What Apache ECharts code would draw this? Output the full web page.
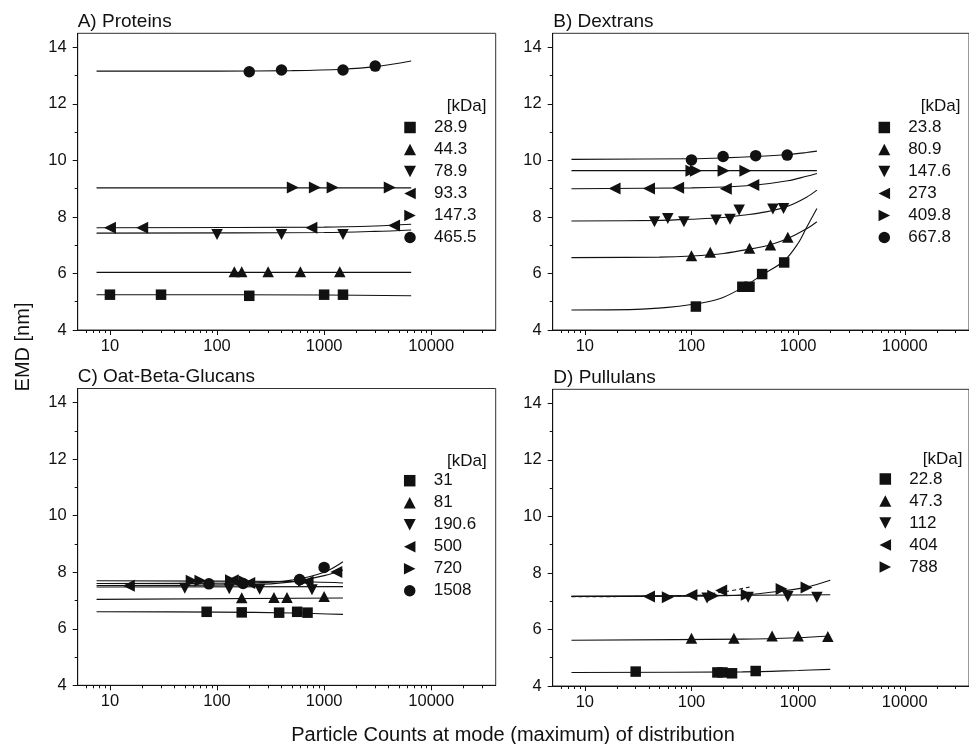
<!DOCTYPE html>
<html>
<head>
<meta charset="utf-8">
<script src="https://cdn.jsdelivr.net/npm/echarts@6/dist/echarts.min.js"></script>
<style>
html, body { margin: 0; padding: 0; background: #fff; }
#chart { width: 969px; height: 744px; }
</style>
</head>
<body>
<div id="chart"></div>
<script>
// tick values
var xTicks = [10, 100, 1000, 10000];
var xMinorTicks = [6, 7, 8, 9, 20, 30, 40, 50, 60, 70, 80, 90, 200, 300, 400, 500, 600, 700, 800, 900,
                   2000, 3000, 4000, 5000, 6000, 7000, 8000, 9000, 20000, 30000];
var yTicks = [4, 6, 8, 10, 12, 14];
var yMinorTicks = [5, 7, 9, 11, 13];

var panelTitles = ['A) Proteins', 'B) Dextrans', 'C) Oat-Beta-Glucans', 'D) Pullulans'];

// A) Proteins
var protNames = ['28.9', '44.3', '78.9', '93.3', '147.3', '465.5'];
var protSym = ['square', 'up', 'down', 'left', 'right', 'circle'];
var protX = [[10, 30, 200, 1000, 1500], [145, 170, 300, 600, 1400], [100, 400, 1500],
             [10, 20, 760, 4500], [510, 820, 1200, 4100], [200, 400, 1500, 3000]];
var protY = [[5.25, 5.25, 5.21, 5.25, 5.25], [6.06, 6.06, 6.06, 6.06, 6.06], [7.38, 7.38, 7.38],
             [7.62, 7.62, 7.62, 7.70], [9.04, 9.04, 9.04, 9.04], [13.14, 13.20, 13.20, 13.34]];
var protFitX = [[7.5, 1000, 6500], [7.5, 6500], [7.5, 1000, 3000, 6500],
                [7.5, 1000, 3000, 6500], [7.5, 6500], [7.5, 100, 500, 1500, 3000, 6500]];
var protFitY = [[5.25, 5.24, 5.21], [6.04, 6.04], [7.43, 7.45, 7.49, 7.54],
                [7.62, 7.64, 7.68, 7.74], [9.03, 9.03], [13.16, 13.16, 13.18, 13.23, 13.32, 13.52]];

// B) Dextrans
var dexNames = ['23.8', '80.9', '147.6', '273', '409.8', '667.8'];
var dexSym = ['square', 'up', 'down', 'left', 'right', 'circle'];
var dexX = [[110, 300, 350, 460, 740], [100, 150, 350, 550, 800],
            [45, 60, 85, 170, 230, 280, 580, 730], [19, 40, 75, 210, 380],
            [100, 110, 200, 320], [100, 198, 400, 790]];
var dexY = [[4.83, 5.53, 5.53, 5.98, 6.39], [6.63, 6.75, 6.89, 7.01, 7.28],
            [7.83, 7.95, 7.83, 7.89, 7.92, 8.25, 8.28, 8.30], [9.01, 9.01, 9.03, 9.00, 9.13],
            [9.64, 9.64, 9.64, 9.64], [10.02, 10.14, 10.17, 10.19]];
var dexFitX = [[7.5, 30, 60, 100, 150, 200, 300, 460, 740, 1000, 1200, 1500],
               [7.5, 50, 100, 200, 350, 550, 800, 1200, 1500],
               [7.5, 50, 100, 200, 300, 500, 800, 1200, 1500],
               [7.5, 100, 200, 400, 800, 1200, 1500],
               [7.5, 1500],
               [7.5, 100, 200, 400, 800, 1200, 1500]];
var dexFitY = [[4.71, 4.73, 4.80, 4.90, 5.02, 5.16, 5.50, 5.95, 6.45, 7.07, 7.63, 8.30],
               [6.56, 6.58, 6.62, 6.71, 6.86, 7.02, 7.24, 7.58, 7.83],
               [7.86, 7.88, 7.92, 7.98, 8.06, 8.18, 8.38, 8.70, 8.95],
               [9.00, 9.03, 9.06, 9.13, 9.28, 9.44, 9.54],
               [9.64, 9.64],
               [10.04, 10.06, 10.09, 10.14, 10.21, 10.28, 10.33]];

// C) Oat-Beta-Glucans
var oatNames = ['31', '81', '190.6', '500', '720', '1508'];
var oatSym = ['square', 'up', 'down', 'left', 'right', 'circle'];
var oatX = [[80, 170, 380, 560, 700], [170, 340, 450, 1000], [50, 130, 250, 770],
            [15, 140, 200, 700, 1300], [58, 70, 135, 180, 650], [84, 175, 590, 1000]];
var oatY = [[6.60, 6.58, 6.57, 6.60, 6.57], [7.10, 7.11, 7.11, 7.14], [7.43, 7.42, 7.40, 7.38],
            [7.52, 7.72, 7.62, 7.66, 8.01], [7.70, 7.70, 7.72, 7.68, 7.70], [7.59, 7.60, 7.74, 8.17]];
var oatFitX = [[7.5, 100, 500, 1500], [7.5, 1500], [7.5, 1500],
               [7.5, 200, 500, 1000, 1500], [7.5, 500, 1500], [7.5, 200, 500, 1000, 1500]];
var oatFitY = [[6.60, 6.59, 6.56, 6.51], [7.04, 7.09], [7.48, 7.49],
               [7.53, 7.56, 7.66, 7.88, 8.08], [7.70, 7.67, 7.62], [7.60, 7.62, 7.72, 8.00, 8.37]];

// D) Pullulans
var pulNames = ['22.8', '47.3', '112', '404', '788'];
var pulSym = ['square', 'up', 'down', 'left', 'right'];
var pulX = [[30, 175, 195, 240, 400], [100, 250, 570, 1000, 1900], [140, 340, 800, 1500],
            [40, 100, 190], [60, 160, 330, 700, 1200]];
var pulY = [[4.51, 4.48, 4.48, 4.45, 4.53], [5.69, 5.69, 5.77, 5.77, 5.75], [7.11, 7.14, 7.17, 7.14],
            [7.17, 7.22, 7.38], [7.14, 7.19, 7.23, 7.43, 7.49]];
var pulFitX = [[7.5, 300, 1000, 2000], [7.5, 300, 1000, 2000], [7.5, 2000],
               [7.5, 100, 200, 350], [7.5, 100, 300, 700, 1200, 2000]];
var pulFitY = [[4.48, 4.50, 4.55, 4.59], [5.62, 5.66, 5.71, 5.77], [7.17, 7.23],
               [7.16, 7.20, 7.33, 7.50], [7.17, 7.18, 7.22, 7.36, 7.50, 7.74]];
var pulDashed = [false, false, false, true, false];

// ---- layout ----
var FONT = '"Liberation Sans", Arial, sans-serif';
var INK = '#111';
var grids = [
    { left: 77.7, top: 33.3, width: 418, height: 296.7 },
    { left: 552.7, top: 33.3, width: 418, height: 296.7 },
    { left: 77.7, top: 388.5, width: 418, height: 296.8 },
    { left: 552.7, top: 389.3, width: 418, height: 296.7 }
];
var legendPos = [[404, 119], [878.3, 119], [403.7, 472.2], [879.3, 470.5]];
var kdaPos = [[446.7, 106], [920.7, 106], [447, 461], [922.7, 459.5]];
var titlePos = [[77.7, 22], [553.3, 22], [77.7, 377], [553.3, 378]];

var SYM = {
    square: { symbol: 'path://M0,0H10V10H0Z', size: [10.5, 10.5] },
    up: { symbol: 'path://M0,11L5.75,0L11.5,11Z', size: [11.5, 11] },
    down: { symbol: 'path://M0,0L11.5,0L5.75,11Z', size: [11.5, 11] },
    left: { symbol: 'path://M12,0L12,12L0,6Z', size: [12, 12] },
    right: { symbol: 'path://M0,0L12,6L0,12Z', size: [12, 12] },
    circle: { symbol: 'circle', size: 11.5 }
};

var xAxes = [], yAxes = [], series = [], legends = [], graphics = [];

grids.forEach(function (g, p) {
    g.show = true;
    g.borderColor = '#333';
    g.borderWidth = 1;
    g.containLabel = false;
    xAxes.push({
        type: 'log', logBase: 10, gridIndex: p, min: 5, max: 40000, position: 'bottom',
        axisLine: { show: true, lineStyle: { color: INK, width: 1 } },
        axisTick: { show: true, inside: false, length: 5, customValues: xTicks, lineStyle: { color: INK } },
        axisLabel: { customValues: xTicks, margin: 8, color: INK, fontSize: 16.5, fontFamily: FONT,
                     formatter: function (v) { return String(v); } },
        splitLine: { show: false }
    });
    xAxes.push({
        type: 'log', logBase: 10, gridIndex: p, min: 5, max: 40000, position: 'bottom',
        axisLine: { show: false },
        axisTick: { show: true, inside: false, length: 3, customValues: xMinorTicks, lineStyle: { color: INK } },
        axisLabel: { show: false },
        splitLine: { show: false }
    });
    yAxes.push({
        type: 'value', gridIndex: p, min: 4, max: 14.5, position: 'left',
        axisLine: { show: true, lineStyle: { color: INK, width: 1 } },
        axisTick: { show: true, inside: false, length: 5, customValues: yTicks, lineStyle: { color: INK } },
        axisLabel: { customValues: yTicks, margin: 11, color: INK, fontSize: 16.5, fontFamily: FONT },
        splitLine: { show: false }
    });
    yAxes.push({
        type: 'value', gridIndex: p, min: 4, max: 14.5, position: 'left',
        axisLine: { show: false },
        axisTick: { show: true, inside: false, length: 3, customValues: yMinorTicks, lineStyle: { color: INK } },
        axisLabel: { show: false },
        splitLine: { show: false }
    });
});

function addPanel(p, names, syms, xs, ys, fitXs, fitYs, dashed) {
    names.forEach(function (name, i) {
        var s = SYM[syms[i]];
        series.push({
            type: 'line', xAxisIndex: 2 * p, yAxisIndex: 2 * p, silent: true,
            data: fitXs[i].map(function (x, j) { return [x, fitYs[i][j]]; }),
            showSymbol: false, symbol: 'none', smooth: 0.35,
            lineStyle: { color: INK, width: 1.1, type: dashed && dashed[i] ? [4, 3] : 'solid' },
            z: 2
        });
        series.push({
            type: 'scatter', name: name, xAxisIndex: 2 * p, yAxisIndex: 2 * p,
            data: xs[i].map(function (x, j) { return [x, ys[i][j]]; }),
            symbol: s.symbol, symbolSize: s.size,
            itemStyle: { color: INK, opacity: 1 },
            z: 3
        });
    });
    legends.push({
        data: names, orient: 'vertical', left: legendPos[p][0], top: legendPos[p][1],
        itemWidth: 38, itemHeight: 11.5, itemGap: 5, padding: 0, selectedMode: false,
        symbolKeepAspect: true,
        textStyle: { color: INK, fontSize: 17, fontFamily: FONT }
    });
    graphics.push({
        type: 'text', x: kdaPos[p][0], y: kdaPos[p][1],
        style: { text: '[kDa]', fill: INK, font: '17px ' + FONT,
                 textAlign: 'left', textVerticalAlign: 'middle', align: 'left', verticalAlign: 'middle' }
    });
    graphics.push({
        type: 'text', x: titlePos[p][0], y: titlePos[p][1],
        style: { text: panelTitles[p], fill: INK, font: '19px ' + FONT,
                 textAlign: 'left', textVerticalAlign: 'middle', align: 'left', verticalAlign: 'middle' }
    });
}

addPanel(0, protNames, protSym, protX, protY, protFitX, protFitY);
addPanel(1, dexNames, dexSym, dexX, dexY, dexFitX, dexFitY);
addPanel(2, oatNames, oatSym, oatX, oatY, oatFitX, oatFitY);
addPanel(3, pulNames, pulSym, pulX, pulY, pulFitX, pulFitY, pulDashed);

graphics.push({
    type: 'text', x: 23, y: 347, rotation: Math.PI / 2,
    style: { text: 'EMD [nm]', fill: INK, font: '20px ' + FONT,
             textAlign: 'center', textVerticalAlign: 'middle', align: 'center', verticalAlign: 'middle' }
});
graphics.push({
    type: 'text', x: 513, y: 735.5,
    style: { text: 'Particle Counts at mode (maximum) of distribution', fill: INK, font: '20px ' + FONT,
             textAlign: 'center', textVerticalAlign: 'middle', align: 'center', verticalAlign: 'middle' }
});

var chart = echarts.init(document.getElementById('chart'), null, { renderer: 'canvas' });
chart.setOption({
    animation: false,
    backgroundColor: '#fff',
    grid: grids,
    xAxis: xAxes,
    yAxis: yAxes,
    legend: legends,
    graphic: graphics,
    series: series
});
</script>
</body>
</html>
